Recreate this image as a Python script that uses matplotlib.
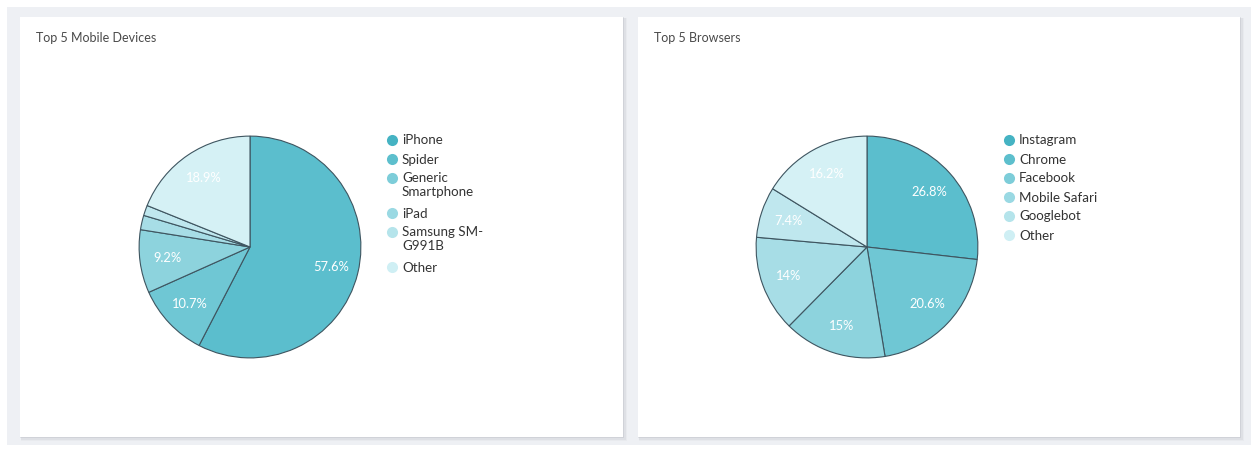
import matplotlib
matplotlib.use("Agg")
import matplotlib.pyplot as plt
from matplotlib.patches import Rectangle

plt.rcParams['font.family'] = ['Lato', 'DejaVu Sans']

# ---- data ----
dev_title = "Top 5 Mobile Devices"
dev_labels = ["iPhone", "Spider", "Generic\nSmartphone", "iPad", "Samsung SM-\nG991B", "Other"]
dev_values = [57.6, 10.7, 9.2, 2.1, 1.5, 18.9]

br_title = "Top 5 Browsers"
br_labels = ["Instagram", "Chrome", "Facebook", "Mobile Safari", "Googlebot", "Other"]
br_values = [26.8, 20.6, 15, 14, 7.4, 16.2]

slice_colors = ["#5bbecd", "#6fc7d4", "#8dd3dd", "#a7dde6", "#bfe7ee", "#d5f1f5"]
marker_colors = ["#45b3c3", "#5dbfcd", "#7dcdd9", "#9ad9e3", "#b5e4eb", "#cfeff4"]

W, H = 1260, 450
fig = plt.figure(figsize=(W / 100, H / 100), dpi=100)
fig.patch.set_facecolor("white")

bg = fig.add_axes([0, 0, 1, 1], zorder=0)
bg.set_xlim(0, W)
bg.set_ylim(H, 0)
bg.axis("off")

# gray dashboard background
bg.add_patch(Rectangle((7, 7), 1244, 438, facecolor="#eef0f4", edgecolor="none", zorder=0))

panels = [(20, 17, 603, 420), (638, 17, 602, 420)]
for (x, y, w, h) in panels:
    for off, a in [(3, 0.06), (2, 0.10), (1, 0.16)]:
        bg.add_patch(Rectangle((x + off * 0.3, y + off * 0.3), w + off, h + off,
                               facecolor="#8a8f99", edgecolor="none", alpha=a, zorder=1))
    bg.add_patch(Rectangle((x, y), w, h, facecolor="white", edgecolor="none", zorder=2))


def draw_chart(px, title, labels, values, cx, cy, r, lx, ly):
    bg.text(px + 16, 38, title, fontsize=9, color="#4a4a4a", va="center", ha="left", zorder=3)
    ax = fig.add_axes([(cx - r) / W, (H - cy - r) / H, 2 * r / W, 2 * r / H], zorder=2)
    ax.set_facecolor("none")

    def fmt(p):
        return "" if p < 5 else f"{round(p, 1):g}%"

    ax.pie(values, colors=slice_colors, startangle=90, counterclock=False,
           radius=1.0, autopct=fmt, pctdistance=0.75,
           wedgeprops=dict(edgecolor="#3e5560", linewidth=0.8),
           textprops=dict(color="white", fontsize=9.3))
    ax.set_xlim(-1.01, 1.01)
    ax.set_ylim(-1.01, 1.01)
    ax.set_aspect("equal")
    ax.axis("off")

    y = ly
    for lab, col in zip(labels, marker_colors):
        bg.plot([lx], [y], marker="o", markersize=8, color=col, markeredgewidth=0, zorder=3)
        bg.text(lx + 10, y - 5.5, lab, fontsize=9.6, color="#333333", va="top", ha="left",
                linespacing=1.15, zorder=3)
        nlines = lab.count("\n") + 1
        y += 19 + 16 * (nlines - 1)


draw_chart(20, dev_title, dev_labels, dev_values, 250, 247, 112, 392, 140)
draw_chart(638, br_title, br_labels, br_values, 867, 247, 112, 1009, 140)

fig.savefig("out.png", dpi=100, facecolor=fig.get_facecolor())
